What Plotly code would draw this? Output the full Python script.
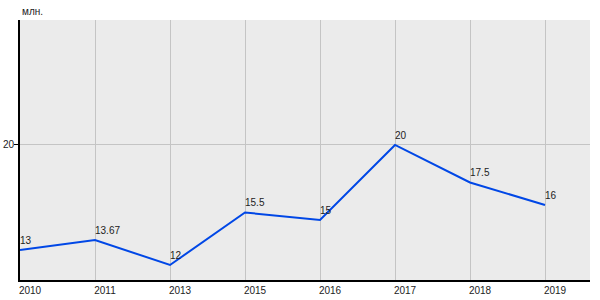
import plotly.graph_objects as go

years = ["2010", "2011", "2013", "2015", "2016", "2017", "2018", "2019"]
values = [13, 13.67, 12, 15.5, 15, 20, 17.5, 16]
labels = ["13", "13.67", "12", "15.5", "15", "20", "17.5", "16"]
y_ticks = [20]
unit_label = "млн."

fig = go.Figure()
fig.add_trace(go.Scatter(
    x=years, y=values, mode="lines",
    line=dict(color="#0047e6", width=2),
    cliponaxis=False, hoverinfo="skip",
))

annots = [dict(
    text=unit_label, xref="paper", yref="paper", x=0, y=1,
    xanchor="left", yanchor="bottom", yshift=1, showarrow=False,
    font=dict(size=10, color="#222"),
)]
for i, (yv, lab) in enumerate(zip(values, labels)):
    annots.append(dict(
        x=i, y=yv, xref="x", yref="y", text=lab, showarrow=False,
        xanchor="left", yanchor="bottom", xshift=-2, yshift=2,
        font=dict(size=10, color="#222"),
    ))

fig.update_layout(
    width=600, height=300,
    margin=dict(l=20, r=10, t=20, b=20),
    paper_bgcolor="white", plot_bgcolor="#ebebeb",
    showlegend=False,
    font=dict(family="Liberation Sans, Arial", size=10, color="#222"),
    xaxis=dict(
        type="category", range=[0, 7.6], automargin=False,
        showgrid=True, gridcolor="#c4c4c4", gridwidth=1,
        showline=True, linecolor="black", linewidth=2,
        ticks="", ticklabelshift=10, tickfont=dict(size=10),
        zeroline=False,
    ),
    yaxis=dict(
        range=[11, 28.33], tickvals=y_ticks, automargin=False,
        showgrid=True, gridcolor="#c4c4c4", gridwidth=1,
        showline=True, linecolor="black", linewidth=2,
        ticks="outside", ticklen=4, tickcolor="black",
        ticklabelstandoff=-2,
        zeroline=False, tickfont=dict(size=10),
    ),
    annotations=annots,
)

fig.write_html("out.html")
